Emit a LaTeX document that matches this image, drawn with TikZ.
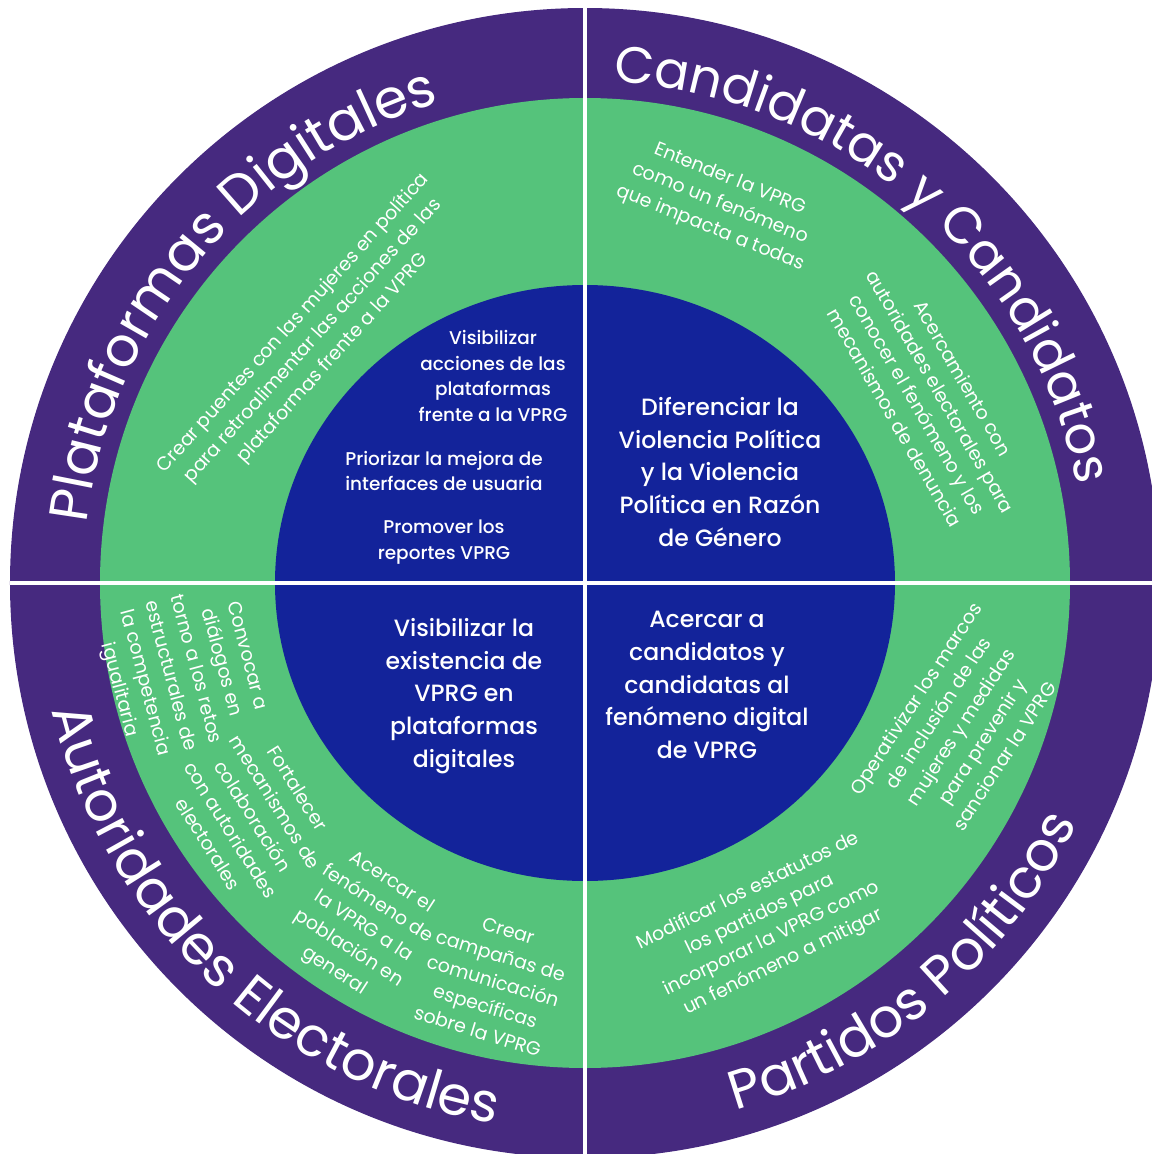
\documentclass[tikz,border=0pt]{standalone}
\usepackage{fontspec}
\setmainfont{Poppins}
\newfontfamily\medfont{Poppins Medium}
\usetikzlibrary{decorations.text}
\definecolor{ringpurple}{HTML}{46297F}
\definecolor{ringgreen}{HTML}{55C37B}
\definecolor{ringblue}{HTML}{13239A}
\tikzset{
  bluetxt/.style={text=white,align=center,font=\medfont\fontsize{6.7}{9.3}\selectfont},
  smalltxt/.style={text=white,align=center,font=\medfont\fontsize{5.25}{7.25}\selectfont},
  greentxt/.style={text=white,align=center,font=\fontsize{5.4}{7.5}\selectfont},
  titlearc/.style 2 args={decorate,decoration={text along path,text align=center,
    text color=white,text={|\fontsize{#1}{18}\selectfont|#2}}}
}
\begin{document}
\begin{tikzpicture}
\useasboundingbox (-5.85,-5.71) rectangle (5.67,5.83);
\fill[ringpurple] (0,0) circle (5.75);
\fill[ringgreen] (0,0) circle (4.85);
\fill[ringblue] (0,0) ellipse (3.10 and 2.98);
\draw[white,line width=1.2pt] (180:5.75) -- (0:5.75);
\draw[white,line width=1.2pt] (90:5.75) -- (270:5.75);

\path[titlearc={15.5}{Plataformas Digitales}] (190:5.02) arc[start angle=190,end angle=90,radius=5.02];
\path[titlearc={14.6}{Candidatas y Candidatos}] (99:5.02) arc[start angle=99,end angle=-1,radius=5.02];
\path[titlearc={15.5}{Autoridades Electorales}] (177:5.48) arc[start angle=177,end angle=277,radius=5.48];
\path[titlearc={15.5}{Partidos Políticos}] (260:5.48) arc[start angle=260,end angle=360,radius=5.48];

\node[greentxt,rotate=48] (puentes) at (-2.72,2.42) {Crear puentes con las mujeres en política\\para retroalimentar las acciones de las\\plataformas frente a la VPRG};
\node[greentxt,rotate=-22] (entender) at (1.35,3.79) {Entender la VPRG\\como un fenómeno\\que impacta a todas};
\node[greentxt,rotate=-60] (acercamiento) at (3.44,1.85) {Acercamiento con\\autoridades electorales para\\conocer el fenómeno y los\\mecanismos de denuncia};
\node[greentxt,rotate=57] (operativizar) at (3.75,-1.44) {Operativizar los marcos\\de inclusión de las\\mujeres y medidas\\para prevenir y\\sancionar la VPRG};
\node[greentxt,rotate=26] (modificar) at (1.81,-3.44) {Modificar los estatutos de\\los partidos para\\incorporar la VPRG como\\un fenómeno a mitigar};
\node[greentxt,rotate=-75] (convocar) at (-4.03,-0.90) {Convocar a\\diálogos en\\torno a los retos\\estructurales de\\la competencia\\igualitaria};
\node[greentxt,rotate=-58] (fortalecer) at (-3.32,-2.33) {Fortalecer\\mecanismos de\\colaboración\\con autoridades\\electorales};
\node[greentxt,rotate=-33] (acercar) at (-2.22,-3.44) {Acercar el\\fenómeno de\\la VPRG a la\\población en\\general};
\node[greentxt,rotate=-17] (campanas) at (-0.92,-3.98) {Crear\\campañas de\\comunicación\\específicas\\sobre la VPRG};

\node[smalltxt] (visacciones) at (-0.92,2.07) {Visibilizar\\acciones de las\\plataformas\\frente a la VPRG};
\node[smalltxt] (priorizar) at (-1.41,1.12) {Priorizar la mejora de\\interfaces de usuaria};
\node[smalltxt] (promover) at (-1.41,0.41) {Promover los\\reportes VPRG};
\node[bluetxt] (diferenciar) at (1.35,1.11) {Diferenciar la\\Violencia Política\\y la Violencia\\Política en Razón\\de Género};
\node[bluetxt] (visexistencia) at (-1.21,-1.13) {Visibilizar la\\existencia de\\VPRG en\\plataformas\\digitales};
\node[bluetxt] (acercarcand) at (1.22,-1.02) {Acercar a\\candidatos y\\candidatas al\\fenómeno digital\\de VPRG};
\end{tikzpicture}
\end{document}
